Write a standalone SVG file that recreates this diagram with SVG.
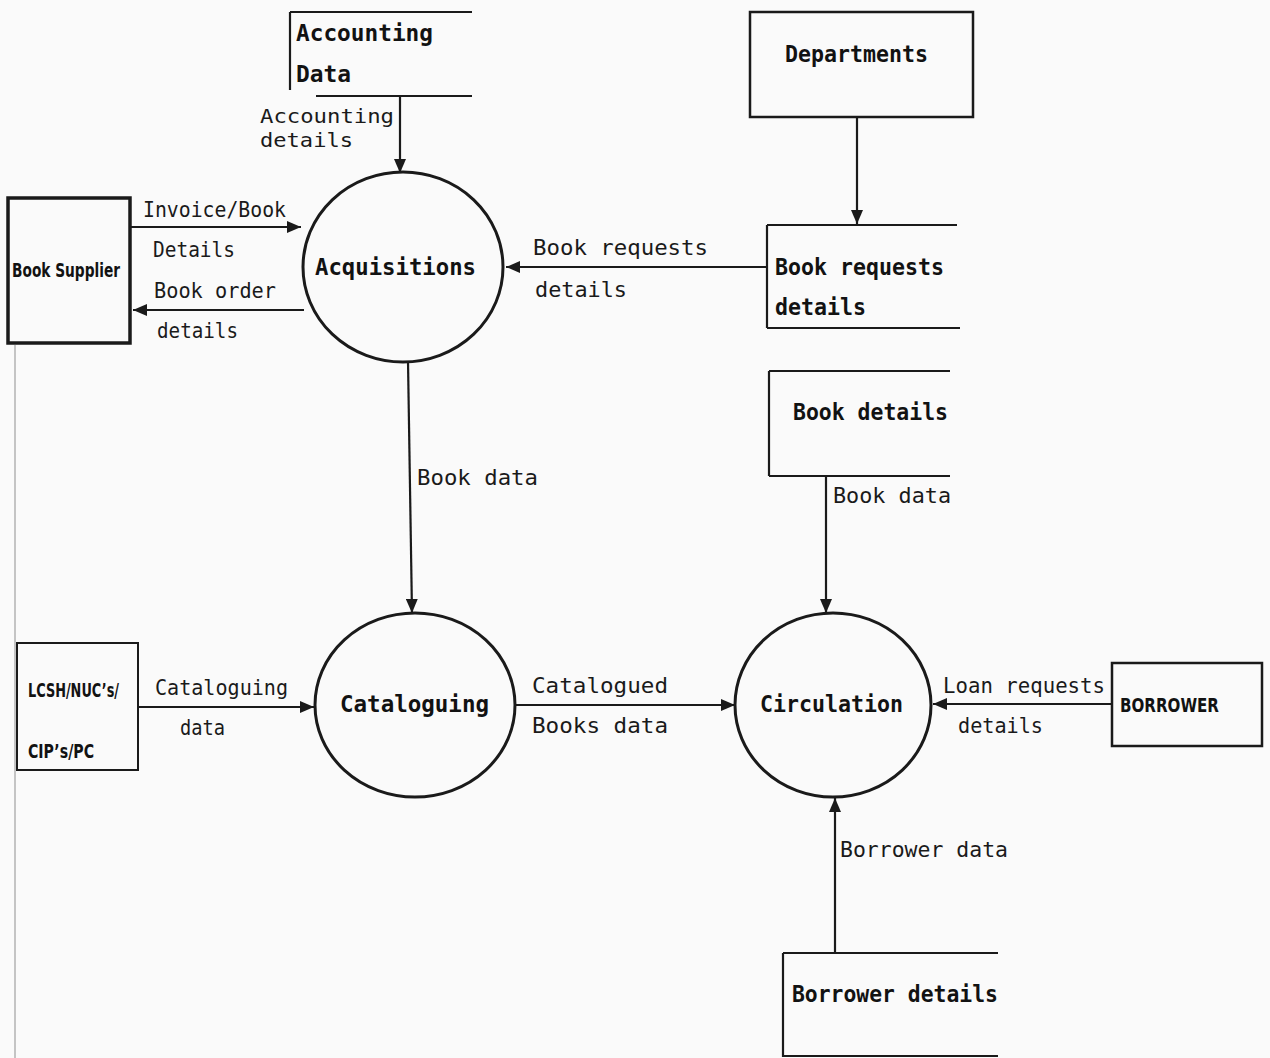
<svg xmlns="http://www.w3.org/2000/svg" width="1270" height="1058" viewBox="0 0 1270 1058">
<defs>
<style>
.ln{stroke:#1a1a1a;stroke-width:2.2;fill:none}
.ar{stroke:#1a1a1a;stroke-width:2.2;fill:none;marker-end:url(#ah)}
.proc{stroke:#1a1a1a;stroke-width:3;fill:none}
.lbl{font-family:"DejaVu Sans Mono","Liberation Mono",monospace;font-size:22px;fill:#1a1a1a}
.tight{font-size:19px}
.bld{font-family:"DejaVu Sans Mono","Liberation Mono",monospace;font-size:23px;font-weight:bold;fill:#121212}
.cnd{font-family:"DejaVu Sans","Liberation Sans",sans-serif;font-size:19px;font-weight:bold;fill:#121212}
</style>
<marker id="ah" viewBox="0 0 14 12" refX="14" refY="6" markerWidth="14" markerHeight="12" markerUnits="userSpaceOnUse" orient="auto">
<path d="M0,0 L14,6 L0,12 z" fill="#1a1a1a"/>
</marker>
</defs>
<rect width="1270" height="1058" fill="#fafafa"/>
<line x1="15" y1="345" x2="15" y2="1058" stroke="#c4c4c4" stroke-width="2"/>

<g id="connectors">
<path class="ar" d="M400,96 L400,173"/>
<path class="ar" d="M130,227 L301,227"/>
<path class="ar" d="M304,310 L133,310"/>
<path class="ar" d="M767,267 L506,267"/>
<path class="ar" d="M857,117 L857,224"/>
<path class="ar" d="M408,361 L412,613"/>
<path class="ar" d="M138,707 L314,707"/>
<path class="ar" d="M515,705 L735,705"/>
<path class="ar" d="M826,476 L826,613"/>
<path class="ar" d="M1112,704 L933,704"/>
<path class="ar" d="M835,953 L835,798"/>
</g>

<g id="labels">
<text class="lbl tight" x="260" y="123" textLength="134" lengthAdjust="spacingAndGlyphs">Accounting</text>
<text class="lbl tight" x="260" y="147" textLength="93" lengthAdjust="spacingAndGlyphs">details</text>
<text class="lbl" x="143" y="217" textLength="143" lengthAdjust="spacingAndGlyphs">Invoice/Book</text>
<text class="lbl" x="153" y="257" textLength="82" lengthAdjust="spacingAndGlyphs">Details</text>
<text class="lbl" x="154" y="298" textLength="122" lengthAdjust="spacingAndGlyphs">Book order</text>
<text class="lbl" x="157" y="338" textLength="81" lengthAdjust="spacingAndGlyphs">details</text>
<text class="lbl" x="533" y="255" textLength="175" lengthAdjust="spacingAndGlyphs">Book requests</text>
<text class="lbl" x="535" y="297" textLength="92" lengthAdjust="spacingAndGlyphs">details</text>
<text class="lbl" x="417" y="485" textLength="121" lengthAdjust="spacingAndGlyphs">Book data</text>
<text class="lbl" x="833" y="503" textLength="118" lengthAdjust="spacingAndGlyphs">Book data</text>
<text class="lbl" x="155" y="695" textLength="133" lengthAdjust="spacingAndGlyphs">Cataloguing</text>
<text class="lbl" x="180" y="735" textLength="45" lengthAdjust="spacingAndGlyphs">data</text>
<text class="lbl" x="532" y="693" textLength="136" lengthAdjust="spacingAndGlyphs">Catalogued</text>
<text class="lbl" x="532" y="733" textLength="136" lengthAdjust="spacingAndGlyphs">Books data</text>
<text class="lbl" x="943" y="693" textLength="162" lengthAdjust="spacingAndGlyphs">Loan requests</text>
<text class="lbl" x="958" y="733" textLength="85" lengthAdjust="spacingAndGlyphs">details</text>
<text class="lbl" x="840" y="857" textLength="168" lengthAdjust="spacingAndGlyphs">Borrower data</text>
</g>

<g id="accounting-data">
<path class="ln" d="M290,12 L290,90 M290,12 L472,12 M316,96 L472,96"/>
<text class="bld" x="296" y="41" textLength="137" lengthAdjust="spacingAndGlyphs">Accounting</text>
<text class="bld" x="296" y="82" textLength="55" lengthAdjust="spacingAndGlyphs">Data</text>
</g>

<g id="book-supplier">
<rect x="8" y="198" width="122" height="145" fill="none" stroke="#1a1a1a" stroke-width="3.5"/>
<text class="cnd" x="12" y="277" textLength="108" lengthAdjust="spacingAndGlyphs">Book Supplier</text>
</g>

<g id="acquisitions">
<ellipse class="proc" cx="403" cy="267" rx="100" ry="95"/>
<text class="bld" x="315" y="275" textLength="161" lengthAdjust="spacingAndGlyphs">Acquisitions</text>
</g>

<g id="departments">
<rect x="750" y="12" width="223" height="105" fill="none" stroke="#1a1a1a" stroke-width="2.5"/>
<text class="bld" x="785" y="62" textLength="143" lengthAdjust="spacingAndGlyphs">Departments</text>
</g>

<g id="book-requests-details">
<path class="ln" d="M767,225 L957,225 M767,225 L767,328 M767,328 L960,328"/>
<text class="bld" x="775" y="275" textLength="169" lengthAdjust="spacingAndGlyphs">Book requests</text>
<text class="bld" x="775" y="315" textLength="91" lengthAdjust="spacingAndGlyphs">details</text>
</g>

<g id="book-details">
<path class="ln" d="M769,371 L950,371 M769,371 L769,476 M769,476 L950,476"/>
<text class="bld" x="793" y="420" textLength="155" lengthAdjust="spacingAndGlyphs">Book details</text>
</g>

<g id="lcsh">
<rect x="17" y="643" width="121" height="127" fill="none" stroke="#1a1a1a" stroke-width="2"/>
<text class="cnd" x="28" y="697" textLength="91" lengthAdjust="spacingAndGlyphs">LCSH/NUC’s/</text>
<text class="cnd" x="28" y="758" textLength="66" lengthAdjust="spacingAndGlyphs">CIP’s/PC</text>
</g>

<g id="cataloguing">
<ellipse class="proc" cx="415" cy="705" rx="100" ry="92"/>
<text class="bld" x="340" y="712" textLength="149" lengthAdjust="spacingAndGlyphs">Cataloguing</text>
</g>

<g id="circulation">
<ellipse class="proc" cx="833" cy="705" rx="98" ry="92"/>
<text class="bld" x="760" y="712" textLength="143" lengthAdjust="spacingAndGlyphs">Circulation</text>
</g>

<g id="borrower">
<rect x="1112" y="663" width="150" height="83" fill="none" stroke="#1a1a1a" stroke-width="2.5"/>
<text class="cnd" x="1120" y="712" textLength="99" lengthAdjust="spacingAndGlyphs">BORROWER</text>
</g>

<g id="borrower-details">
<path class="ln" d="M783,953 L998,953 M783,953 L783,1057 M783,1056 L998,1056"/>
<text class="bld" x="792" y="1002" textLength="206" lengthAdjust="spacingAndGlyphs">Borrower details</text>
</g>
</svg>
